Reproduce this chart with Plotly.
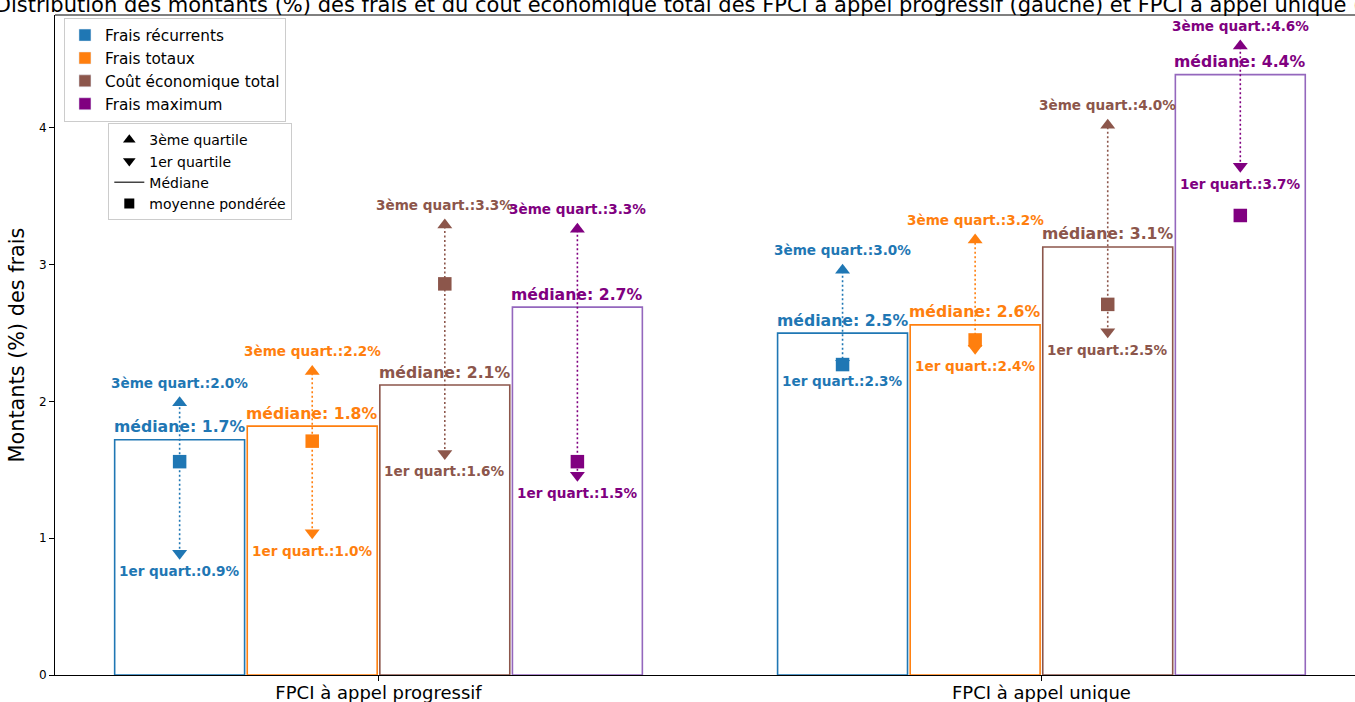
import plotly.graph_objects as go

groups = ["FPCI à appel progressif", "FPCI à appel unique"]
series = ["Frais récurrents", "Frais totaux", "Coût économique total", "Frais maximum"]
marker_colors = ["#1f77b4", "#ff7f0e", "#8c564b", "#800080"]
edge_colors = ["#1f77b4", "#ff7f0e", "#8c564b", "#9467bd"]
offsets = [-0.3, -0.1, 0.1, 0.3]
bar_width = 0.196

# values per series: [progressif, unique]
medians = {
    "Frais récurrents": [1.72, 2.50],
    "Frais totaux": [1.82, 2.56],
    "Coût économique total": [2.12, 3.13],
    "Frais maximum": [2.69, 4.39],
}
q1 = {
    "Frais récurrents": [0.89, 2.28],
    "Frais totaux": [1.04, 2.39],
    "Coût économique total": [1.62, 2.51],
    "Frais maximum": [1.46, 3.72],
}
q3 = {
    "Frais récurrents": [1.99, 2.96],
    "Frais totaux": [2.22, 3.18],
    "Coût économique total": [3.29, 4.02],
    "Frais maximum": [3.26, 4.60],
}
means = {
    "Frais récurrents": [1.56, 2.27],
    "Frais totaux": [1.71, 2.45],
    "Coût économique total": [2.86, 2.71],
    "Frais maximum": [1.56, 3.36],
}

FONT = "DejaVu Sans"
fig = go.Figure()
annotations = []

for i, s in enumerate(series):
    xs = [g + offsets[i] for g in range(len(groups))]
    fig.add_trace(go.Bar(
        x=xs, y=medians[s], width=bar_width,
        marker=dict(color="rgba(255,255,255,0)", line=dict(color=edge_colors[i], width=1.6)),
        showlegend=False, hoverinfo="skip",
    ))
    for k, x in enumerate(xs):
        fig.add_trace(go.Scatter(
            x=[x, x], y=[q1[s][k], q3[s][k]], mode="lines",
            line=dict(color=marker_colors[i], width=1.6, dash="2px,2.5px"),
            showlegend=False, hoverinfo="skip",
        ))
    fig.add_trace(go.Scatter(x=xs, y=q3[s], mode="markers",
                             marker=dict(symbol="triangle-up", size=13, color=marker_colors[i]),
                             showlegend=False, hoverinfo="skip"))
    fig.add_trace(go.Scatter(x=xs, y=q1[s], mode="markers",
                             marker=dict(symbol="triangle-down", size=13, color=marker_colors[i]),
                             showlegend=False, hoverinfo="skip"))
    fig.add_trace(go.Scatter(x=xs, y=means[s], mode="markers",
                             marker=dict(symbol="square", size=13.5, color=marker_colors[i]),
                             showlegend=False, hoverinfo="skip"))
    for k, x in enumerate(xs):
        annotations.append(dict(x=x, y=medians[s][k], text=f"<b>médiane: {medians[s][k]:.1f}%</b>",
                                showarrow=False, yshift=13, yanchor="middle", xanchor="center",
                                font=dict(family=FONT, size=15.7, color=marker_colors[i])))
        annotations.append(dict(x=x, y=q3[s][k], text=f"<b>3ème quart.:{q3[s][k]:.1f}%</b>",
                                showarrow=False, yshift=20, yanchor="middle", xanchor="center",
                                font=dict(family=FONT, size=13.6, color=marker_colors[i])))
        annotations.append(dict(x=x, y=q1[s][k], text=f"<b>1er quart.:{q1[s][k]:.1f}%</b>",
                                showarrow=False, yshift=-18, yanchor="middle", xanchor="center",
                                font=dict(family=FONT, size=13.6, color=marker_colors[i])))

for i, s in enumerate(series):
    fig.add_trace(go.Bar(x=[None], y=[None], name=s, marker=dict(color=marker_colors[i]),
                         legend="legend"))

fig.add_trace(go.Scatter(x=[None], y=[None], mode="markers", name="3ème quartile",
                         marker=dict(symbol="triangle-up", size=11, color="black"), legend="legend2"))
fig.add_trace(go.Scatter(x=[None], y=[None], mode="markers", name="1er quartile",
                         marker=dict(symbol="triangle-down", size=11, color="black"), legend="legend2"))
fig.add_trace(go.Scatter(x=[None], y=[None], mode="lines", name="Médiane",
                         line=dict(color="#444444", width=1.6), legend="legend2"))
fig.add_trace(go.Scatter(x=[None], y=[None], mode="markers", name="moyenne pondérée",
                         marker=dict(symbol="square", size=10, color="black"), legend="legend2"))

fig.update_layout(
    width=1355, height=702,
    margin=dict(l=55, r=0, t=15, b=27),
    paper_bgcolor="white", plot_bgcolor="white",
    font=dict(family=FONT, color="black"),
    barmode="overlay",
    title=dict(
        text="Distribution des montants (%) des frais et du coût économique total des FPCI à appel progressif (gauche) et FPCI à appel unique (droite)",
        x=0.506, xref="paper", xanchor="center", y=1 - 5 / 702, yref="container", yanchor="middle",
        font=dict(family=FONT, size=21, color="black"),
    ),
    xaxis=dict(range=[-0.488, 1.473], tickvals=[0, 1], ticktext=groups, showline=True,
               linecolor="black", linewidth=1, ticks="outside", ticklen=5, tickcolor="black",
               showgrid=False, zeroline=False, automargin=False, ticklabelstandoff=-4,
               tickfont=dict(size=18, family=FONT, color="black")),
    yaxis=dict(range=[0, 4.826], tickvals=[0, 1, 2, 3, 4], showline=True, linecolor="black",
               linewidth=1, ticks="outside", ticklen=5, tickcolor="black", showgrid=False,
               zeroline=False, automargin=False, tickfont=dict(size=12, family=FONT, color="black"),
               title=dict(text="Montants (%) des frais", font=dict(size=20.8, family=FONT, color="black"),
                          standoff=8)),
    legend=dict(x=0.0069, y=0.996, xanchor="left", yanchor="top", bgcolor="rgba(255,255,255,0.9)",
                bordercolor="#cccccc", borderwidth=1, font=dict(size=15.3, family=FONT, color="black"),
                tracegroupgap=0),
    legend2=dict(x=0.041, y=0.836, xanchor="left", yanchor="top", bgcolor="rgba(255,255,255,0.9)",
                 bordercolor="#cccccc", borderwidth=1, font=dict(size=14, family=FONT, color="black")),
    annotations=annotations,
    shapes=[dict(type="line", xref="paper", yref="paper", x0=0, x1=1, y0=1, y1=1,
                 line=dict(color="black", width=1))],
)

fig.write_html("out.html", config={"displayModeBar": False},
               post_script="document.body.style.margin='0';")
